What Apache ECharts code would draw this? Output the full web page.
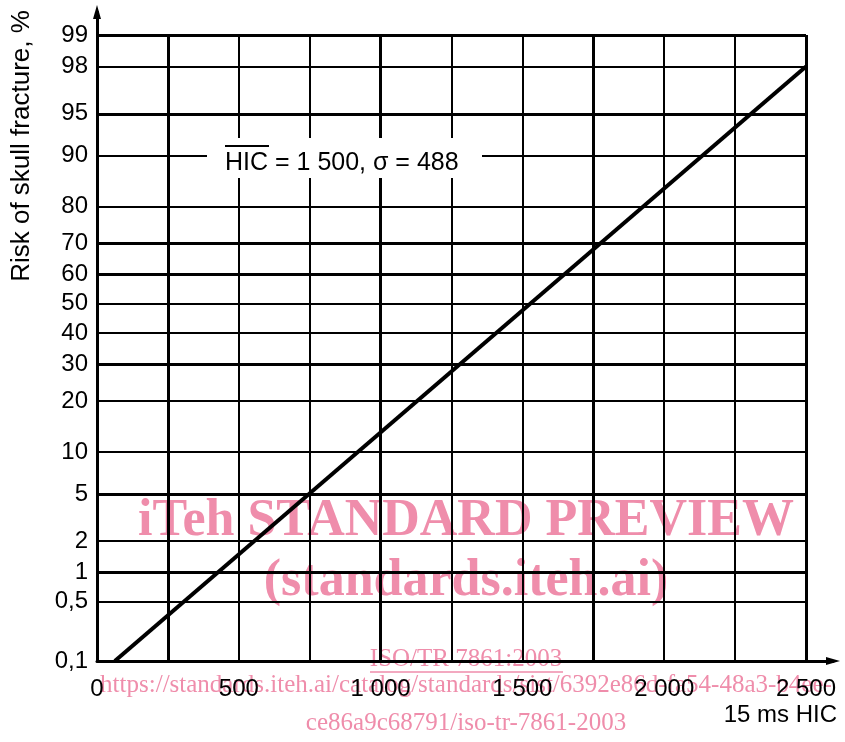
<!DOCTYPE html>
<html>
<head>
<meta charset="utf-8">
<script src="https://cdn.jsdelivr.net/npm/echarts@6/dist/echarts.min.js"></script>
<style>html,body{margin:0;padding:0;background:#fff}#chart{width:845px;height:742px}</style>
</head>
<body>
<div id="chart"></div>
<script>
// ---- data ----
const hicValues = [63, 2500];            // 15 ms HIC at the two ends of the plotted line
const riskPercent = [0.1, 98];           // risk of skull fracture, %
const yTickPercents = [0.1, 0.5, 1, 2, 5, 10, 20, 30, 40, 50, 60, 70, 80, 90, 95, 98, 99];
const yThickPercents = [1, 5, 30, 60, 70, 95, 99];
const yThinPercents = [0.5, 2, 10, 20, 40, 50, 80, 90, 98];
const xLabelValues = [0, 500, 1000, 1500, 2000, 2500];
const xThickValues = [250, 1000, 1750, 2500];
const xThinValues = [500, 750, 1250, 1500, 2000, 2250];
const yMinPercent = 0.1, yMaxPercent = 99;
const xMin = 0, xMax = 2500;

// inverse normal CDF (probability-paper scale)
function probit(p) {
  const a=[-3.969683028665376e+01,2.209460984245205e+02,-2.759285104469687e+02,1.383577518672690e+02,-3.066479806614716e+01,2.506628277459239e+00];
  const b=[-5.447609879822406e+01,1.615858368580409e+02,-1.556989798598866e+02,6.680131188771972e+01,-1.328068155288572e+01];
  const c=[-7.784894002430293e-03,-3.223964580411365e-01,-2.400758277161838e+00,-2.549732539343734e+00,4.374664141464968e+00,2.938163982698783e+00];
  const d=[7.784695709041462e-03,3.224671290700398e-01,2.445134137142996e+00,3.754408661907416e+00];
  const pl=0.02425, ph=1-pl; let q, r;
  if (p < pl) { q=Math.sqrt(-2*Math.log(p)); return (((((c[0]*q+c[1])*q+c[2])*q+c[3])*q+c[4])*q+c[5])/((((d[0]*q+d[1])*q+d[2])*q+d[3])*q+1); }
  if (p <= ph) { q=p-0.5; r=q*q; return (((((a[0]*r+a[1])*r+a[2])*r+a[3])*r+a[4])*r+a[5])*q/(((((b[0]*r+b[1])*r+b[2])*r+b[3])*r+b[4])*r+1); }
  q=Math.sqrt(-2*Math.log(1-p)); return -(((((c[0]*q+c[1])*q+c[2])*q+c[3])*q+c[4])*q+c[5])/((((d[0]*q+d[1])*q+d[2])*q+d[3])*q+1);
}
const z = pct => probit(pct / 100);
function pctLabel(v) {
  let best = yTickPercents[0], bd = Infinity;
  yTickPercents.forEach(p => { const dd = Math.abs(z(p) - v); if (dd < bd) { bd = dd; best = p; } });
  return String(best).replace('.', ',');
}
function hicLabel(v) {
  return v >= 1000 ? String(v).replace(/(\d)(\d{3})$/, '$1 $2') : String(v);
}

const FONT = '"Liberation Sans", Arial, Helvetica, sans-serif';
const SERIF = '"Liberation Serif", "Times New Roman", serif';
const PINK = '#ef8dab';

const chart = echarts.init(document.getElementById('chart'), null, {renderer: 'canvas'});
const yMin = z(yMinPercent), yMax = z(yMaxPercent);

const option = {
  backgroundColor: '#fff',
  animation: false,
  grid: [
    {left: 97, right: 39, top: 35, bottom: 81},
    {left: 97, right: 12, top: 12, bottom: 81}
  ],
  xAxis: [
    {gridIndex: 0, type: 'value', position: 'bottom', min: xMin, max: xMax,
     axisLine: {show: false}, axisTick: {show: false, customValues: xThickValues},
     axisLabel: {show: false}, splitLine: {show: true, lineStyle: {color: '#000', width: 3}}},
    {gridIndex: 0, type: 'value', position: 'bottom', min: xMin, max: xMax,
     axisLine: {show: false}, axisTick: {show: false, customValues: xThinValues},
     axisLabel: {show: true, customValues: xLabelValues, formatter: hicLabel, margin: 16,
                 color: '#000', fontSize: 24, fontFamily: FONT},
     splitLine: {show: true, lineStyle: {color: '#000', width: 2}}},
    {gridIndex: 1, type: 'value', position: 'bottom', min: 0, max: 1,
     axisLine: {show: true, symbol: ['none', 'triangle'], symbolSize: [8, 14],
                lineStyle: {color: '#000', width: 3}},
     axisTick: {show: false}, axisLabel: {show: false}, splitLine: {show: false}}
  ],
  yAxis: [
    {gridIndex: 0, type: 'value', position: 'left', min: yMin, max: yMax,
     axisLine: {show: false}, axisTick: {show: false, customValues: yThickPercents.map(z)},
     axisLabel: {show: true, customValues: yTickPercents.map(z), formatter: pctLabel, margin: 9,
                 color: '#000', fontSize: 24, fontFamily: FONT},
     splitLine: {show: true, lineStyle: {color: '#000', width: 3}}},
    {gridIndex: 0, type: 'value', position: 'left', min: yMin, max: yMax,
     axisLine: {show: false}, axisTick: {show: false, customValues: yThinPercents.map(z)},
     axisLabel: {show: false}, splitLine: {show: true, lineStyle: {color: '#000', width: 2}}},
    {gridIndex: 1, type: 'value', position: 'left', min: 0, max: 1,
     axisLine: {show: true, symbol: ['none', 'triangle'], symbolSize: [8, 14],
                lineStyle: {color: '#000', width: 3}},
     axisTick: {show: false}, axisLabel: {show: false}, splitLine: {show: false}}
  ],
  series: [{
    type: 'line', xAxisIndex: 0, yAxisIndex: 0, z: 5,
    data: hicValues.map((h, i) => [h, z(riskPercent[i])]),
    symbol: 'none', lineStyle: {color: '#000', width: 4}
  }],
  graphic: [
    // axis titles
    {type: 'text', x: 22, y: 146, rotation: Math.PI / 2, z: 10,
     style: {text: 'Risk of skull fracture, %', font: '26px ' + FONT, fill: '#000',
             textAlign: 'center', textVerticalAlign: 'middle'}},
    {type: 'text', x: 837, y: 715, z: 10,
     style: {text: '15 ms HIC', font: '24px ' + FONT, fill: '#000',
             textAlign: 'right', textVerticalAlign: 'middle'}},
    // annotation
    {type: 'rect', z: 50, shape: {x: 207, y: 138, width: 275, height: 40}, style: {fill: '#fff'}},
    {type: 'text', x: 225, y: 163, z: 51,
     style: {text: 'HIC = 1 500, \u03c3 = 488', font: '25px ' + FONT, fill: '#000',
             textAlign: 'left', textVerticalAlign: 'middle'}},
    {type: 'line', z: 51, shape: {x1: 225, y1: 146, x2: 269, y2: 146}, style: {stroke: '#000', lineWidth: 2}},
    // watermark
    {type: 'text', x: 466, y: 522, z: -10,
     style: {text: 'iTeh STANDARD PREVIEW', font: 'bold 52px ' + SERIF, fill: PINK,
             textAlign: 'center', textVerticalAlign: 'middle'}},
    {type: 'text', x: 466, y: 582, z: -10,
     style: {text: '(standards.iteh.ai)', font: 'bold 52px ' + SERIF, fill: PINK,
             textAlign: 'center', textVerticalAlign: 'middle'}},
    {type: 'text', x: 466, y: 659, z: -10,
     style: {text: 'ISO/TR 7861:2003', font: '25px ' + SERIF, fill: PINK,
             textAlign: 'center', textVerticalAlign: 'middle'}},
    {type: 'line', z: -10, shape: {x1: 370, y1: 672, x2: 563, y2: 672}, style: {stroke: PINK, lineWidth: 1.5}},
    {type: 'text', x: 466, y: 685, z: -10,
     style: {text: 'https://standards.iteh.ai/catalog/standards/sist/6392e86d-fa54-48a3-b4ee-', font: '25px ' + SERIF, fill: PINK,
             textAlign: 'center', textVerticalAlign: 'middle'}},
    {type: 'text', x: 466, y: 723, z: -10,
     style: {text: 'ce86a9c68791/iso-tr-7861-2003', font: '25px ' + SERIF, fill: PINK,
             textAlign: 'center', textVerticalAlign: 'middle'}}
  ]
};
chart.setOption(option);
</script>
</body>
</html>
